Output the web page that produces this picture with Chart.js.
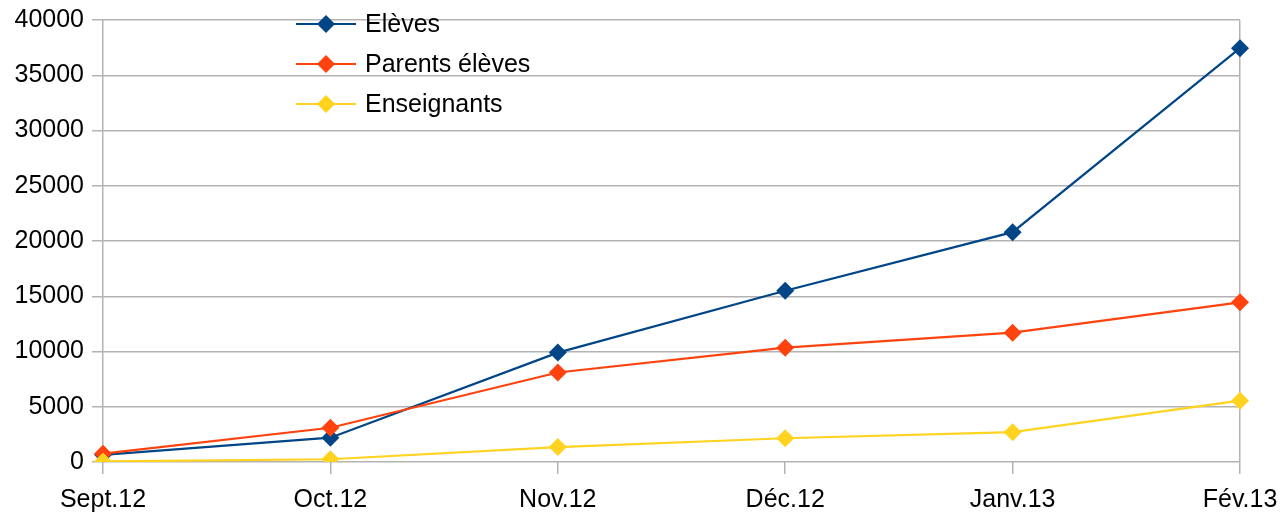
<!DOCTYPE html>
<html>
<head>
<meta charset="utf-8">
<script src="https://cdn.jsdelivr.net/npm/chart.js@4"></script>
<style>
  html, body { margin: 0; padding: 0; background: #fff; }
  #wrap { width: 1284px; height: 514px; }
</style>
</head>
<body>
<div id="wrap"><canvas id="myChart" width="1284" height="514"></canvas></div>
<script>
'use strict';

let months = ['Sept.12', 'Oct.12', 'Nov.12', 'Déc.12', 'Janv.13', 'Fév.13'];
let eleves = [650, 2200, 9900, 15500, 20800, 37450];
let parents = [750, 3100, 8100, 10350, 11700, 14450];
let enseignants = [50, 250, 1350, 2150, 2700, 5550];
let seriesNames = ['Elèves', 'Parents élèves', 'Enseignants'];
let seriesColors = ['#004586', '#ff420e', '#ffd320'];
let yTicks = [0, 5000, 10000, 15000, 20000, 25000, 30000, 35000, 40000];

let gridCol = '#b3b3b3';
let fontName = '"Liberation Sans", Arial, sans-serif';

function makeSet(i, data, order) {
    return {
        label: seriesNames[i],
        data: data,
        borderColor: seriesColors[i],
        backgroundColor: seriesColors[i],
        borderWidth: 2.2,
        pointStyle: 'rectRot',
        pointRadius: 9,
        pointHoverRadius: 9,
        pointBorderWidth: 0,
        tension: 0,
        order: order
    };
}

// legend drawn inside the plot, like the original
let innerLegend = {
    id: 'innerLegend',
    afterDraw(chart) {
        let ctx = chart.ctx;
        ctx.save();
        ctx.font = '25px ' + fontName;
        ctx.textBaseline = 'middle';
        for (let i = 0; i < seriesNames.length; i++) {
            let y = 24 + i * 40;
            ctx.strokeStyle = seriesColors[i];
            ctx.lineWidth = 2.2;
            ctx.beginPath();
            ctx.moveTo(296, y);
            ctx.lineTo(356, y);
            ctx.stroke();
            ctx.fillStyle = seriesColors[i];
            ctx.beginPath();
            ctx.moveTo(326, y - 9);
            ctx.lineTo(335, y);
            ctx.lineTo(326, y + 9);
            ctx.lineTo(317, y);
            ctx.closePath();
            ctx.fill();
            ctx.fillStyle = '#000';
            ctx.fillText(seriesNames[i], 365, y + 1);
        }
        ctx.restore();
    }
};

var ctx = document.getElementById('myChart').getContext('2d');
var myChart = new Chart(ctx, {
    type: 'line',
    data: {
        labels: months,
        datasets: [
            makeSet(0, eleves, 2),
            makeSet(1, parents, 1),
            makeSet(2, enseignants, 0)
        ]
    },
    plugins: [innerLegend],
    options: {
        responsive: false,
        animation: false,
        layout: { padding: { top: 20, right: 44, left: 0, bottom: 0 } },
        plugins: {
            legend: { display: false },
            tooltip: { enabled: false }
        },
        scales: {
            x: {
                offset: false,
                grid: {
                    color: function(c) {
                        return (c.index === 0 || c.index === months.length - 1) ? gridCol : 'rgba(0,0,0,0)';
                    },
                    tickColor: gridCol,
                    tickLength: 12,
                    lineWidth: 1.5
                },
                border: { display: false },
                ticks: {
                    color: '#000',
                    font: { family: fontName, size: 25 },
                    padding: 11,
                    maxRotation: 0,
                    autoSkip: false
                },
                afterFit: function(scale) {
                    scale.height = 52;
                    scale.paddingLeft = 0;
                    scale.paddingRight = 0;
                }
            },
            y: {
                min: 0,
                max: 40000,
                afterBuildTicks: function(scale) {
                    scale.ticks = yTicks.map(v => ({ value: v }));
                },
                grid: {
                    color: gridCol,
                    tickColor: gridCol,
                    tickLength: 11,
                    lineWidth: 1.5
                },
                border: { display: false },
                ticks: {
                    color: '#000',
                    font: { family: fontName, size: 25 },
                    padding: 8,
                    callback: function(v) { return String(v); }
                },
                afterFit: function(scale) {
                    scale.width = 103;
                    scale.paddingTop = 0;
                    scale.paddingBottom = 0;
                }
            }
        }
    }
});
</script>
</body>
</html>
